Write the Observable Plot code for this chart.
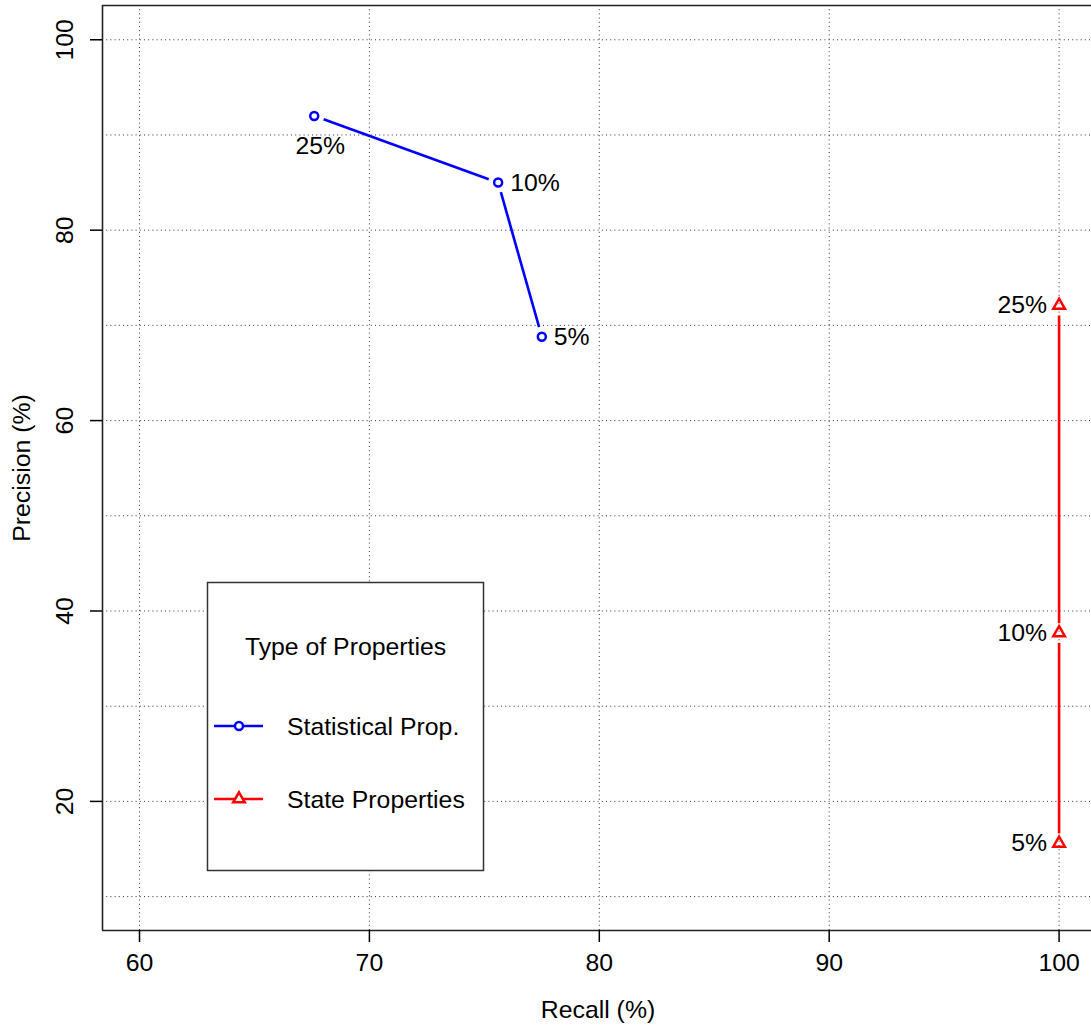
<!DOCTYPE html>
<html>
<head>
<meta charset="utf-8">
<script src="https://cdn.jsdelivr.net/npm/d3@7"></script>
<script src="https://cdn.jsdelivr.net/npm/@observablehq/plot@0.6"></script>
<style>
  html, body { margin: 0; padding: 0; background: #fff; }
  #chart svg { display: block; }
</style>
</head>
<body>
<div id="chart"></div>
<script>
// ---- data ----
const thresholds = ["5%", "10%", "25%"];
const statRecall = [77.5, 75.6, 67.6];
const statPrecision = [68.8, 85.0, 92.0];
const stateRecall = [100, 100, 100];
const statePrecision = [15.6, 37.7, 72.1];
const xTicks = [60, 70, 80, 90, 100];
const yTicks = [20, 40, 60, 80, 100];
const yGrid = [10, 20, 30, 40, 50, 60, 70, 80, 90, 100];
const seriesNames = ["Statistical Prop.", "State Properties"];
const legendTitle = "Type of Properties";
const xLabel = "Recall (%)";
const yLabel = "Precision (%)";

// ---- build tables ----
const stat = thresholds.map((t, i) => ({x: statRecall[i], y: statPrecision[i], t}));
const state = thresholds.map((t, i) => ({x: stateRecall[i], y: statePrecision[i], t}));
const segs = pts => pts.slice(0, -1).map((p, i) => ({x1: p.x, y1: p.y, x2: pts[i + 1].x, y2: pts[i + 1].y}));

const BLUE = "#0000ff", RED = "#ff0000";
const FONT = "'Liberation Sans', Arial, Helvetica, sans-serif";
const FS = 24.8;
const xDomain = [58.39, 101.41];
const yDomain = [6.44, 103.6];

const chart = Plot.plot({
  width: 1091,
  height: 1025,
  marginLeft: 102,
  marginRight: 0,
  marginTop: 5,
  marginBottom: 95,
  style: {fontFamily: FONT, fontSize: FS + "px", color: "#000", background: "#fff"},
  x: {domain: xDomain},
  y: {domain: yDomain},
  marks: [
    // grid
    Plot.ruleX(xTicks, {stroke: "#333", strokeWidth: 1, strokeDasharray: "1,3.2"}),
    Plot.ruleY(yGrid, {stroke: "#333", strokeWidth: 1, strokeDasharray: "1,3.2"}),
    // frame (right side falls outside the picture)
    Plot.ruleX([xDomain[0]], {stroke: "#222", strokeWidth: 1.6}),
    Plot.ruleY([yDomain[0], yDomain[1]], {stroke: "#222", strokeWidth: 1.6}),
    // axes
    Plot.axisX(xTicks, {tickSize: 12, tickPadding: 11, label: null, strokeWidth: 1.5, fontSize: FS}),
    Plot.axisY(yTicks, {tickSize: 12, tickFormat: () => "", label: null, strokeWidth: 1.5}),
    Plot.text(yTicks, {y: d => d, frameAnchor: "left", text: d => String(d), rotate: -90, dx: -37,
      textAnchor: "middle", lineAnchor: "middle", fontSize: FS}),
    Plot.text([xLabel], {frameAnchor: "bottom", text: d => d, dy: 80, dx: 1,
      textAnchor: "middle", lineAnchor: "middle", fontSize: FS}),
    Plot.text([yLabel], {frameAnchor: "left", text: d => d, rotate: -90, dx: -80,
      textAnchor: "middle", lineAnchor: "middle", fontSize: FS}),
    // series lines (type "b": gaps around points)
    Plot.arrow(segs(stat), {x1: "x1", y1: "y1", x2: "x2", y2: "y2", stroke: BLUE, strokeWidth: 2.6,
      headLength: 0, inset: 10, strokeLinecap: "butt"}),
    Plot.arrow(segs(state), {x1: "x1", y1: "y1", x2: "x2", y2: "y2", stroke: RED, strokeWidth: 2.6,
      headLength: 0, inset: 10, strokeLinecap: "butt"}),
    // points
    Plot.dot(stat, {x: "x", y: "y", r: 4, stroke: BLUE, strokeWidth: 2.5, fill: "none"}),
    Plot.dot(state, {x: "x", y: "y", r: 4.3, symbol: "triangle", stroke: RED, strokeWidth: 2.5, fill: "none"}),
    // point labels
    Plot.text(stat.filter(d => d.t !== "25%"), {x: "x", y: "y", text: "t", textAnchor: "start", dx: 12, fontSize: FS}),
    Plot.text(stat.filter(d => d.t === "25%"), {x: "x", y: "y", text: "t", dy: 30, dx: 6, fontSize: FS}),
    Plot.text(state, {x: "x", y: "y", text: "t", textAnchor: "end", dx: -12, fontSize: FS})
  ]
});

document.getElementById("chart").appendChild(chart);

// ---- legend (inside plot area) ----
const svg = d3.select(chart);
const lg = svg.append("g").attr("font-family", FONT).attr("font-size", FS).attr("text-anchor", "start");
lg.append("rect").attr("x", 207.5).attr("y", 582.5).attr("width", 276).attr("height", 288)
  .attr("fill", "#fff").attr("stroke", "#333").attr("stroke-width", 1.5);
lg.append("text").attr("x", 345.5).attr("y", 646).attr("dy", "0.35em").attr("text-anchor", "middle").text(legendTitle);
const entries = [
  {name: seriesNames[0], color: BLUE, sym: d3.symbolCircle, r: 4, y: 726},
  {name: seriesNames[1], color: RED, sym: d3.symbolTriangle, r: 4.3, y: 799}
];
for (const e of entries) {
  lg.append("line").attr("x1", 214).attr("x2", 263).attr("y1", e.y).attr("y2", e.y)
    .attr("stroke", e.color).attr("stroke-width", 2.6);
  lg.append("path").attr("transform", `translate(239,${e.y})`)
    .attr("d", d3.symbol(e.sym, Math.PI * e.r * e.r)())
    .attr("fill", "#fff").attr("stroke", e.color).attr("stroke-width", 2.5);
  lg.append("text").attr("x", 287).attr("y", e.y).attr("dy", "0.35em").attr("text-anchor", "start").text(e.name);
}
</script>
</body>
</html>
